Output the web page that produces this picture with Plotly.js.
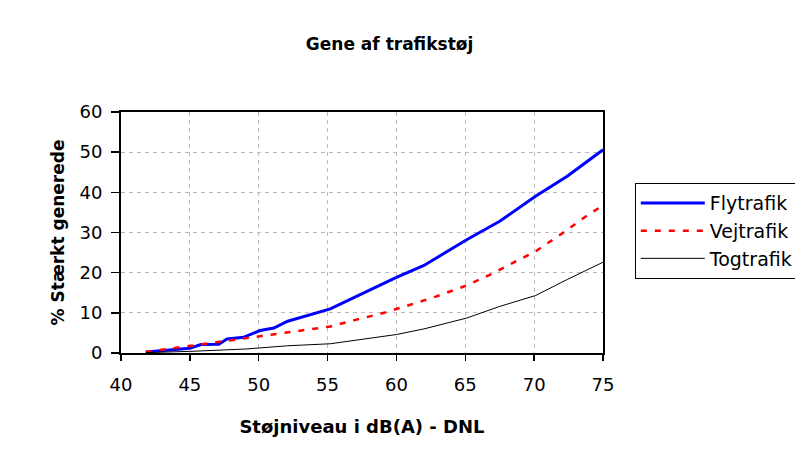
<!DOCTYPE html>
<html>
<head>
<meta charset="utf-8">
<script src="https://cdn.plot.ly/plotly-3.0.1.min.js"></script>
<style>html,body{margin:0;padding:0;background:#fff;}#chart{width:795px;height:457px;}</style>
</head>
<body>
<div id="chart"></div>
<script>
// Støjniveau (dB(A) - DNL) and % strongly annoyed
const flyX = [41.8, 45.0, 45.8, 47.1, 47.7, 48.9, 50.1, 51.1, 52.1, 55.2, 57.9, 60.0, 62.0, 65.1, 67.5, 70.1, 72.4, 75.0];
const flyY = [0.25, 1.2, 2.1, 2.2, 3.5, 3.9, 5.6, 6.2, 7.9, 11.0, 15.4, 18.8, 21.8, 28.2, 32.8, 39.0, 44.0, 50.6];

const vejX = [41.8, 45.0, 46.0, 47.0, 48.2, 50.1, 52.1, 55.2, 57.1, 59.1, 61.0, 62.9, 65.1, 67.0, 69.0, 70.1, 72.0, 74.0, 75.0];
const vejY = [0.25, 1.8, 2.2, 2.7, 3.3, 4.1, 5.1, 6.6, 8.3, 10.0, 12.0, 14.1, 16.8, 19.8, 23.4, 25.3, 29.7, 34.6, 36.7];

const togX = [41.8, 45.0, 49.1, 52.1, 55.2, 57.9, 60.0, 62.0, 65.1, 67.5, 70.1, 72.4, 75.0];
const togY = [0.1, 0.4, 1.0, 1.8, 2.3, 3.7, 4.6, 6.0, 8.7, 11.6, 14.3, 18.3, 22.6];

const seriesNames = ["Flytrafik", "Vejtrafik", "Togtrafik"];
const xTicks = [40, 45, 50, 55, 60, 65, 70, 75];
const yTicks = [0, 10, 20, 30, 40, 50, 60];

const FONT = "'DejaVu Sans', Verdana, sans-serif";

const traces = [
  {x: flyX, y: flyY, name: seriesNames[0], mode: "lines", line: {color: "#0000ff", width: 3}},
  {x: vejX, y: vejY, name: seriesNames[1], mode: "lines", line: {color: "#ff0000", width: 2.5, dash: "6px,8px"}},
  {x: togX, y: togY, name: seriesNames[2], mode: "lines", line: {color: "#000000", width: 1}}
];

const layout = {
  width: 795, height: 457,
  paper_bgcolor: "#ffffff", plot_bgcolor: "#ffffff",
  margin: {l: 121, r: 192, t: 112, b: 104, autoexpand: false},
  font: {family: FONT, size: 17, color: "#000"},
  title: {text: "<b>Gene af trafikstøj</b>", x: 0.49, xref: "container", xanchor: "center", y: 0.903, yref: "container", yanchor: "middle",
          font: {family: FONT, size: 17, color: "#000"}},
  xaxis: {
    range: [40, 75], tickvals: xTicks, ticktext: xTicks.map(String),
    showgrid: true, gridcolor: "#bdbdbd", griddash: "4px,4px", gridwidth: 1,
    showline: true, linecolor: "#000", linewidth: 2, mirror: true,
    ticks: "outside", ticklen: 6, tickcolor: "#000", tickwidth: 1.5,
    ticklabelstandoff: 8,
    zeroline: false,
    tickfont: {family: FONT, size: 18, color: "#000"},
    title: {text: "<b>Støjniveau i dB(A) - DNL</b>", font: {family: FONT, size: 18, color: "#000"}, standoff: 27}
  },
  yaxis: {
    range: [0, 60], tickvals: yTicks, ticktext: yTicks.map(String),
    showgrid: true, gridcolor: "#bdbdbd", griddash: "4px,4px", gridwidth: 1,
    showline: true, linecolor: "#000", linewidth: 2, mirror: true,
    ticks: "outside", ticklen: 8, tickcolor: "#000", tickwidth: 1.5,
    ticklabelstandoff: 5,
    zeroline: false,
    tickfont: {family: FONT, size: 18, color: "#000"},
    title: {text: "<b>% Stærkt generede</b>", font: {family: FONT, size: 17, color: "#000"}, standoff: 11}
  },
  showlegend: true,
  legend: {
    x: 1.066, xanchor: "left", y: 0.705, yanchor: "top",
    bordercolor: "#000", borderwidth: 1, bgcolor: "#fff",
    font: {family: FONT, size: 19, color: "#000"},
    itemwidth: 64, tracegroupgap: 0
  }
};

Plotly.newPlot("chart", traces, layout, {displayModeBar: false, staticPlot: true});
</script>
</body>
</html>
